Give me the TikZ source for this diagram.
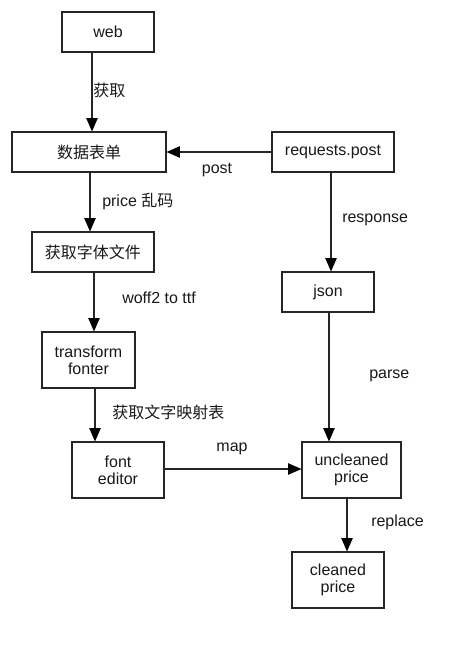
\documentclass[tikz,border=0pt]{standalone}
\usepackage{fontspec}
\setmainfont{Liberation Sans}
\newfontfamily\cjk{Noto Sans CJK SC}
\usetikzlibrary{arrows.meta,calc}
\begin{document}
\begin{tikzpicture}[x=0.75pt,y=-0.75pt,
  box/.style={draw=black!85,line width=0.8pt,inner sep=0pt,align=center,
    font=\fontsize{12}{12.5}\selectfont,text=black!90},
  arr/.style={draw=black!85,line width=0.8pt,-{Triangle[length=10pt,width=8.5pt,fill=black,color=black]}},
  lbl/.style={font=\fontsize{12}{12.5}\selectfont,text=black!90,inner sep=0pt}]
\useasboundingbox[fill=white] (0,0) rectangle (475,658);
% boxes
\node[box,minimum width=92*0.75pt,minimum height=40*0.75pt] (web) at (108,32) {web};
\node[box,minimum width=154*0.75pt,minimum height=40*0.75pt] (form) at (89,152) {\cjk 数据表单};
\node[box,minimum width=122*0.75pt,minimum height=40*0.75pt] (req) at (333,152) {requests.post};
\node[box,minimum width=122*0.75pt,minimum height=40*0.75pt] (ffile) at (93,252) {\cjk 获取字体文件};
\node[box,minimum width=92*0.75pt,minimum height=40*0.75pt] (json) at (328,292) {json};
\node[box,minimum width=93*0.75pt,minimum height=56*0.75pt] (trans) at (88.5,360) {transform\\fonter};
\node[box,minimum width=92*0.75pt,minimum height=56*0.75pt] (fed) at (118,470) {font\\editor};
\node[box,minimum width=99*0.75pt,minimum height=56*0.75pt] (unc) at (351.5,470) {uncleaned\\price};
\node[box,minimum width=92*0.75pt,minimum height=56*0.75pt] (cln) at (338,580) {cleaned\\price};
% guide coordinates
\coordinate (x1) at (92,0);
\coordinate (x2) at (90,0);
\coordinate (x3) at (94,0);
\coordinate (x4) at (95,0);
\coordinate (x7) at (331,0);
\coordinate (x8) at (329,0);
\coordinate (x9) at (347,0);
\coordinate (y5) at (0,469);
% connectors
\draw[arr] (web.south -| x1) -- (form.north -| x1);
\draw[arr] (form.south -| x2) -- (ffile.north -| x2);
\draw[arr] (ffile.south -| x3) -- (trans.north -| x3);
\draw[arr] (trans.south -| x4) -- (fed.north -| x4);
\draw[arr] (fed.east |- y5) -- (unc.west |- y5);
\draw[arr] (req.west) -- (form.east);
\draw[arr] (req.south -| x7) -- (json.north -| x7);
\draw[arr] (json.south -| x8) -- (unc.north -| x8);
\draw[arr] (unc.south -| x9) -- (cln.north -| x9);
% labels
\node[lbl,anchor=west] (l1) at (93,90) {\cjk 获取};
\node[lbl] (l6) at (217,170) {post};
\node[lbl,anchor=west] (l2) at (102,201) {price {\cjk 乱码}};
\node[lbl,anchor=west] (l7) at (342,220) {response};
\node[lbl,anchor=west] (l3) at (122,298) {woff2 to ttf};
\node[lbl,anchor=west] (l8) at (369,376) {parse};
\node[lbl,anchor=west] (l4) at (112,412) {\cjk 获取文字映射表};
\node[lbl] (l5) at (232,449) {map};
\node[lbl,anchor=west] (l9) at (371,522) {replace};
\end{tikzpicture}
\end{document}
